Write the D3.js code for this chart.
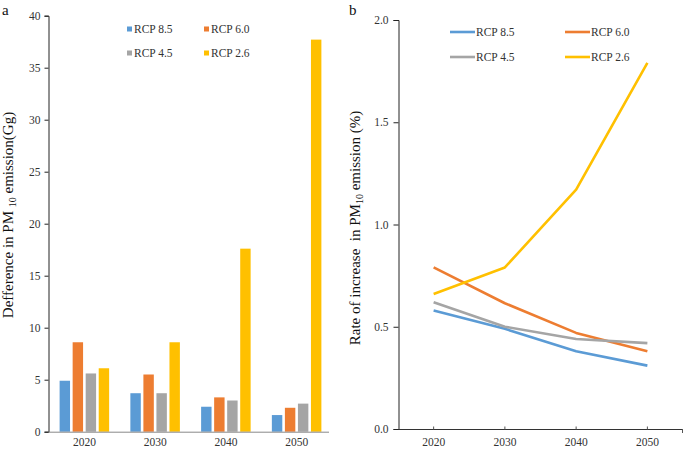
<!DOCTYPE html>
<html>
<head>
<meta http-equiv="Content-Type" content="text/html; charset=UTF-8">
<script src="https://d3js.org/d3.v7.min.js"></script>
<style>
  body { margin: 0; background: #fff; }
  text { font-family: "Liberation Serif", "Times New Roman", serif; }
</style>
</head>
<body>
<div id="chart"></div>
<script>
// data
var years = ["2020", "2030", "2040", "2050"];
var scenarios = ["RCP 8.5", "RCP 6.0", "RCP 4.5", "RCP 2.6"];
var colors = ["#5B9BD5", "#ED7D31", "#A5A5A5", "#FFC000"];

// panel a: difference in PM10 emission (Gg)
var diff85 = [4.9, 3.7, 2.4, 1.6];
var diff60 = [8.6, 5.5, 3.3, 2.3];
var diff45 = [5.6, 3.7, 3.0, 2.7];
var diff26 = [6.1, 8.6, 17.6, 37.7];

// panel b: rate of increase (%)
var rate85 = [0.58, 0.49, 0.38, 0.31];
var rate60 = [0.79, 0.615, 0.47, 0.38];
var rate45 = [0.62, 0.50, 0.44, 0.42];
var rate26 = [0.66, 0.79, 1.17, 1.79];

var yTicksA = [0, 5, 10, 15, 20, 25, 30, 35, 40];
var yTicksB = [0, 0.5, 1.0, 1.5, 2.0];

var diffSeries = [diff85, diff60, diff45, diff26];
var rateSeries = [rate85, rate60, rate45, rate26];

var svg = d3.select("#chart").append("svg")
    .attr("width", 685)
    .attr("height", 450);

// ---------- panel a ----------
var x0 = d3.scaleBand().domain(years).range([49, 332]).paddingInner(0.3).paddingOuter(0.15);
var x1 = d3.scaleBand().domain(scenarios).range([0, x0.bandwidth()]).paddingInner(0.2);
var yA = d3.scaleLinear().domain([0, 40]).range([431.7, 15.7]);

var gA = svg.append("g");

var barData = [];
years.forEach(function(yr, i) {
  scenarios.forEach(function(s, j) {
    barData.push({year: yr, s: s, v: diffSeries[j][i], c: colors[j]});
  });
});

gA.selectAll("rect.bar")
  .data(barData)
  .enter().append("rect")
    .attr("class", "bar")
    .attr("x", function(d) { return x0(d.year) + x1(d.s); })
    .attr("y", function(d) { return yA(d.v); })
    .attr("width", x1.bandwidth())
    .attr("height", function(d) { return yA(0) - yA(d.v); })
    .attr("fill", function(d) { return d.c; });

var yAxisA = gA.append("g")
  .attr("transform", "translate(48.5,0)")
  .call(d3.axisLeft(yA).tickValues(yTicksA).tickSize(4).tickPadding(4));
yAxisA.select(".domain").attr("stroke", "#222");
yAxisA.selectAll(".tick line").attr("stroke", "#222");
yAxisA.selectAll("text").attr("font-size", 11.5).attr("fill", "#333")
  .style("font-family", "'Liberation Serif', serif");

var xAxisA = gA.append("g")
  .attr("transform", "translate(0," + (yA(0) + 0.5) + ")")
  .call(d3.axisBottom(x0).tickSize(0).tickPadding(6).tickSizeOuter(0));
xAxisA.select(".domain").attr("stroke", "#888").attr("d", "M48.5,0H329");
xAxisA.selectAll("text").attr("font-size", 11.5).attr("fill", "#333")
  .style("font-family", "'Liberation Serif', serif");

// legend a
var legA = gA.append("g");
scenarios.forEach(function(s, j) {
  var lx = j % 2 === 0 ? 127 : 204;
  var ly = j < 2 ? 29 : 53;
  legA.append("rect").attr("x", lx).attr("y", ly - 2.5).attr("width", 5).attr("height", 5).attr("fill", colors[j]);
  legA.append("text").attr("x", lx + 7).attr("y", ly + 4).attr("font-size", 11.5).attr("fill", "#333").text(s);
});

// y label a
var labA = gA.append("text")
  .attr("transform", "translate(13,215) rotate(-90)")
  .attr("text-anchor", "middle")
  .attr("font-size", 15)
  .attr("fill", "#111");
labA.append("tspan").text("Defference in PM ");
labA.append("tspan").attr("font-size", 10).attr("dy", 3).text("10");
labA.append("tspan").attr("dy", -3).text(" emission(Gg)");

gA.append("text").attr("x", 2).attr("y", 15).attr("font-size", 15).attr("fill", "#111").text("a");

// ---------- panel b ----------
var xB = d3.scaleBand().domain(years).range([398, 683]);
var yB = d3.scaleLinear().domain([0, 2]).range([429, 20]);

var gB = svg.append("g");

var yAxisB = gB.append("g")
  .attr("transform", "translate(398.5,0)")
  .call(d3.axisLeft(yB).tickValues(yTicksB).tickFormat(d3.format(".1f")).tickSize(5).tickPadding(5));
yAxisB.select(".domain").attr("stroke", "#222");
yAxisB.selectAll(".tick line").attr("stroke", "#222");
yAxisB.selectAll("text").attr("font-size", 11.5).attr("fill", "#333")
  .style("font-family", "'Liberation Serif', serif");

var xAxisB = gB.append("g")
  .attr("transform", "translate(0," + (yB(0) + 0.5) + ")")
  .call(d3.axisBottom(xB).tickSize(3).tickPadding(5).tickSizeOuter(0));
xAxisB.select(".domain").attr("stroke", "#333").attr("d", "M398.5,0H683");
xAxisB.selectAll(".tick line").attr("stroke", "#555").attr("y1", -3).attr("y2", 0);
xAxisB.selectAll("text").attr("font-size", 11.5).attr("fill", "#333")
  .style("font-family", "'Liberation Serif', serif");
gB.append("line").attr("x1", 682.5).attr("x2", 682.5)
  .attr("y1", yB(0)).attr("y2", yB(0) + 4).attr("stroke", "#555");

var line = d3.line()
  .x(function(d, i) { return xB(years[i]) + xB.bandwidth() / 2; })
  .y(function(d) { return yB(d); });

rateSeries.forEach(function(vals, j) {
  gB.append("path")
    .datum(vals)
    .attr("d", line)
    .attr("fill", "none")
    .attr("stroke", colors[j])
    .attr("stroke-width", 2.6)
    .attr("stroke-linejoin", "round");
});

// legend b
var legB = gB.append("g");
scenarios.forEach(function(s, j) {
  var lx = j % 2 === 0 ? 450 : 565;
  var ly = j < 2 ? 32 : 57;
  legB.append("line").attr("x1", lx).attr("x2", lx + 25).attr("y1", ly).attr("y2", ly)
    .attr("stroke", colors[j]).attr("stroke-width", 2.6);
  legB.append("text").attr("x", lx + 26).attr("y", ly + 4).attr("font-size", 11.5).attr("fill", "#333").text(s);
});

// y label b
var labB = gB.append("text")
  .attr("transform", "translate(360,228) rotate(-90)")
  .attr("text-anchor", "middle")
  .attr("font-size", 15)
  .attr("fill", "#111")
  .attr("xml:space", "preserve");
labB.append("tspan").text("Rate of increase  in PM");
labB.append("tspan").attr("font-size", 10).attr("dy", 3).text("10");
labB.append("tspan").attr("dy", -3).text(" emission (%)");

gB.append("text").attr("x", 349).attr("y", 15).attr("font-size", 15).attr("fill", "#111").text("b");
</script>
</body>
</html>
